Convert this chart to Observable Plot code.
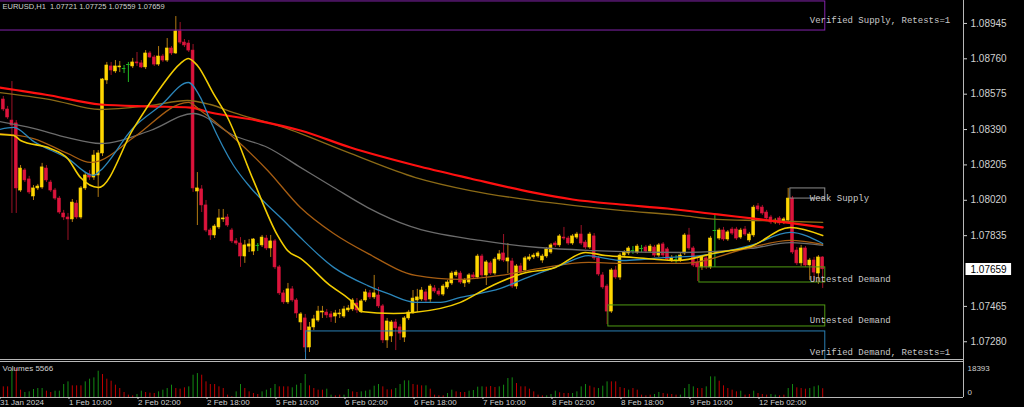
<!DOCTYPE html>
<html><head><meta charset="utf-8">
<script src="https://cdn.jsdelivr.net/npm/d3@7"></script>
<script src="https://cdn.jsdelivr.net/npm/@observablehq/plot@0.6"></script>
<style>
html,body{margin:0;padding:0;background:#000;width:1024px;height:407px;overflow:hidden}
#chart{position:relative;width:1024px;height:407px;background:#000}
#chart svg{display:block;overflow:hidden;position:absolute;left:0}
</style></head><body><div id="chart"></div>
<script>
// ---------------- data ----------------
const symbolName = "EURUSD,H1";
const firstBarIndex = 1; // bar index 0 = 31 Jan 18:00, one bar per hour (weekend skipped)
const barOpen = [
1.08547,1.08495,1.08437,1.08422,1.08071,1.08176,1.08129,1.08040,1.08082,1.08087,
1.08186,1.08113,1.08071,1.08029,1.07951,1.07930,1.07920,1.08003,1.07930,1.08082,
1.08155,1.08139,1.08150,1.08265,1.08647,1.08720,1.08694,1.08715,1.08709,1.08730,
1.08720,1.08741,1.08736,1.08715,1.08788,1.08767,1.08730,1.08772,1.08751,1.08814,
1.08788,1.08903,1.08845,1.08840,1.08803,1.08066,1.08077,1.07993,1.07862,1.07836,
1.07878,1.07920,1.07930,1.07862,1.07805,1.07794,1.07726,1.07778,1.07752,1.07784,
1.07784,1.07820,1.07768,1.07805,1.07669,1.07533,1.07486,1.07554,1.07496,1.07381,
1.07402,1.07250,1.07355,1.07391,1.07433,1.07433,1.07423,1.07412,1.07423,1.07412,
1.07444,1.07449,1.07480,1.07438,1.07496,1.07533,1.07512,1.07522,1.07465,1.07287,
1.07308,1.07381,1.07355,1.07302,1.07402,1.07433,1.07496,1.07501,1.07538,1.07501,
1.07559,1.07543,1.07527,1.07564,1.07585,1.07627,1.07637,1.07585,1.07590,1.07627,
1.07616,1.07726,1.07627,1.07690,1.07637,1.07710,1.07742,1.07700,1.07700,1.07569,
1.07674,1.07653,1.07710,1.07721,1.07726,1.07705,1.07726,1.07747,1.07794,1.07784,
1.07825,1.07820,1.07794,1.07825,1.07841,1.07799,1.07773,1.07831,1.07716,1.07627,
1.07569,1.07438,1.07653,1.07616,1.07731,1.07742,1.07757,1.07747,1.07768,1.07773,
1.07752,1.07773,1.07731,1.07789,1.07763,1.07705,1.07710,1.07705,1.07742,1.07836,
1.07768,1.07695,1.07669,1.07716,1.07669,1.07862,1.07820,1.07862,1.07815,1.07867,
1.07867,1.07825,1.07867,1.07810,1.07836,1.07988,1.07982,1.07956,1.07930,1.07904,
1.07925,1.07904,1.07914,1.08029,1.07757,1.07690,1.07768,1.07679,1.07705,1.07637,
1.07721];
const barHigh = [
1.08563,1.08511,1.08641,1.08437,1.08202,1.08186,1.08145,1.08097,1.08103,1.08213,
1.08202,1.08124,1.08082,1.08040,1.07967,1.07951,1.08024,1.08019,1.08092,1.08160,
1.08176,1.08280,1.08280,1.08657,1.08741,1.08741,1.08751,1.08746,1.08725,1.08741,
1.08762,1.08793,1.08751,1.08803,1.08798,1.08777,1.08824,1.08783,1.08866,1.08824,
1.08981,1.08950,1.08861,1.08856,1.08835,1.08165,1.08097,1.08019,1.07873,1.07893,
1.07972,1.07972,1.07946,1.07873,1.07820,1.07825,1.07810,1.07815,1.07820,1.07794,
1.07836,1.07836,1.07836,1.07815,1.07679,1.07548,1.07585,1.07569,1.07506,1.07433,
1.07423,1.07381,1.07418,1.07465,1.07465,1.07449,1.07438,1.07444,1.07449,1.07465,
1.07470,1.07506,1.07506,1.07501,1.07554,1.07548,1.07627,1.07564,1.07475,1.07402,
1.07391,1.07397,1.07370,1.07412,1.07444,1.07548,1.07554,1.07564,1.07554,1.07580,
1.07574,1.07559,1.07580,1.07601,1.07648,1.07653,1.07648,1.07611,1.07637,1.07642,
1.07737,1.07737,1.07705,1.07700,1.07721,1.07757,1.07841,1.07794,1.07716,1.07684,
1.07690,1.07726,1.07737,1.07742,1.07752,1.07737,1.07773,1.07794,1.07805,1.07841,
1.07878,1.07831,1.07841,1.07852,1.07888,1.07810,1.07852,1.07846,1.07726,1.07642,
1.07580,1.07663,1.07674,1.07742,1.07757,1.07778,1.07778,1.07789,1.07784,1.07784,
1.07789,1.07784,1.07794,1.07799,1.07773,1.07731,1.07731,1.07742,1.07846,1.07873,
1.07778,1.07716,1.07731,1.07726,1.07831,1.07951,1.07873,1.07878,1.07862,1.07878,
1.07878,1.07873,1.07883,1.07852,1.07993,1.08003,1.07993,1.07967,1.07941,1.07925,
1.07935,1.07930,1.08082,1.08040,1.07773,1.07784,1.07778,1.07716,1.07721,1.07731,
1.07725];
const barLow = [
1.08484,1.08443,1.07951,1.07951,1.08061,1.08113,1.08050,1.08019,1.08071,1.08077,
1.08113,1.08061,1.08019,1.07946,1.07914,1.07810,1.07904,1.07920,1.07920,1.08071,
1.08124,1.08124,1.08035,1.08249,1.08626,1.08673,1.08683,1.08688,1.08683,1.08636,
1.08709,1.08720,1.08709,1.08704,1.08762,1.08720,1.08720,1.08741,1.08741,1.08777,
1.08783,1.08835,1.08819,1.08793,1.08061,1.07888,1.07956,1.07852,1.07810,1.07820,
1.07867,1.07904,1.07878,1.07794,1.07784,1.07669,1.07690,1.07747,1.07731,1.07752,
1.07773,1.07757,1.07721,1.07658,1.07522,1.07475,1.07475,1.07486,1.07402,1.07339,
1.07224,1.07224,1.07339,1.07381,1.07402,1.07402,1.07381,1.07376,1.07402,1.07402,
1.07433,1.07438,1.07428,1.07428,1.07486,1.07501,1.07501,1.07454,1.07271,1.07245,
1.07276,1.07234,1.07287,1.07276,1.07391,1.07423,1.07433,1.07491,1.07486,1.07486,
1.07533,1.07517,1.07517,1.07554,1.07574,1.07616,1.07580,1.07564,1.07580,1.07606,
1.07606,1.07616,1.07574,1.07627,1.07627,1.07700,1.07695,1.07637,1.07559,1.07554,
1.07632,1.07642,1.07700,1.07710,1.07716,1.07690,1.07716,1.07737,1.07773,1.07773,
1.07810,1.07784,1.07784,1.07815,1.07784,1.07763,1.07763,1.07705,1.07622,1.07554,
1.07370,1.07428,1.07606,1.07601,1.07721,1.07731,1.07737,1.07737,1.07747,1.07742,
1.07742,1.07721,1.07721,1.07721,1.07700,1.07695,1.07690,1.07695,1.07731,1.07757,
1.07669,1.07595,1.07653,1.07658,1.07658,1.07669,1.07810,1.07805,1.07805,1.07836,
1.07810,1.07815,1.07831,1.07799,1.07825,1.07961,1.07941,1.07914,1.07893,1.07893,
1.07888,1.07893,1.07904,1.07737,1.07679,1.07674,1.07669,1.07601,1.07590,1.07580,
1.07559];
const barClose = [
1.08495,1.08453,1.08411,1.08082,1.08186,1.08124,1.08061,1.08082,1.08092,1.08192,
1.08124,1.08071,1.08029,1.07956,1.07930,1.07920,1.08008,1.07930,1.08082,1.08150,
1.08139,1.08254,1.08265,1.08652,1.08725,1.08699,1.08720,1.08720,1.08709,1.08730,
1.08741,1.08736,1.08715,1.08788,1.08767,1.08730,1.08772,1.08751,1.08814,1.08788,
1.08903,1.08845,1.08830,1.08803,1.08082,1.08082,1.07993,1.07862,1.07836,1.07883,
1.07925,1.07925,1.07888,1.07805,1.07794,1.07726,1.07784,1.07789,1.07815,1.07784,
1.07825,1.07768,1.07805,1.07669,1.07533,1.07486,1.07554,1.07496,1.07428,1.07423,
1.07250,1.07355,1.07397,1.07438,1.07438,1.07418,1.07407,1.07428,1.07428,1.07449,
1.07454,1.07496,1.07444,1.07491,1.07538,1.07512,1.07533,1.07465,1.07287,1.07386,
1.07381,1.07350,1.07323,1.07402,1.07433,1.07506,1.07512,1.07548,1.07496,1.07569,
1.07543,1.07527,1.07569,1.07590,1.07637,1.07642,1.07590,1.07601,1.07627,1.07616,
1.07726,1.07627,1.07695,1.07637,1.07710,1.07737,1.07705,1.07716,1.07569,1.07674,
1.07642,1.07716,1.07721,1.07731,1.07742,1.07726,1.07763,1.07784,1.07784,1.07831,
1.07820,1.07794,1.07831,1.07841,1.07794,1.07773,1.07841,1.07716,1.07632,1.07564,
1.07438,1.07653,1.07616,1.07731,1.07747,1.07768,1.07757,1.07778,1.07768,1.07752,
1.07778,1.07731,1.07784,1.07731,1.07710,1.07716,1.07710,1.07731,1.07836,1.07768,
1.07679,1.07669,1.07721,1.07669,1.07820,1.07862,1.07862,1.07815,1.07852,1.07846,
1.07820,1.07862,1.07841,1.07841,1.07982,1.07972,1.07951,1.07925,1.07904,1.07914,
1.07899,1.07920,1.08029,1.07747,1.07690,1.07768,1.07679,1.07705,1.07642,1.07721,
1.07659];
const tickVolume = [
6752,6752,17302,18393,4642,3165,3587,5064,5697,5697,
4009,3165,4009,4009,8229,9917,7385,7385,7385,9917,
11605,12449,16669,14559,11605,10339,7807,5697,3165,1477,
1055,1899,4009,3165,2743,2532,3587,4642,5697,7807,
5697,5275,6119,6752,14137,15192,14137,9917,8229,8229,
6752,5697,1477,422,3587,8229,5697,3587,2532,1899,
3587,4642,5697,8229,6752,6752,6752,6119,7807,8862,
14559,7385,5697,4642,4642,5275,1477,1055,1477,1477,
5064,3587,3165,3587,4009,4642,7174,8229,6752,4853,
4853,5697,8229,10550,10550,8229,7807,7385,7385,5275,
1477,1055,1055,2532,4642,3587,3165,3165,4009,4431,
6541,6752,6541,6963,6330,6752,7807,12027,12449,8862,
6752,6752,5275,3587,1477,1055,1055,1899,4009,2954,
2532,2532,2532,3587,6752,8229,7174,6119,5697,7174,
9917,9917,9917,6330,5697,4642,5697,4642,1477,1055,
1477,1899,3165,2532,2110,1899,1477,1477,5697,8229,
6752,5697,5697,6752,13082,13082,10339,7385,5697,4642,
3587,4009,1477,1899,4009,2532,1899,1477,1899,1477,
1055,1477,5697,8229,6119,5697,5275,5697,6752,7385,
5566];
// g = volume bar drawn green, r = drawn red
const volumeColorFlags = ("rrgrrggggg"+"rrggggrrrg"+"gggrrrrrrr"+"rggrrrgggg"+"rrrgggrrrr"+
  "rrrrggrrrr"+"ggggrrrggg"+"grrrrggrrg"+"grrgggggrr"+"rggggrrrgr"+"rrrggrrrgg"+"ggrrrggggr"+
  "rrrrrrgggr"+"rrggggrrgg"+"grrrrgrrrr"+"rggrrrrggg"+"grrgggrrrr"+"rgrrgrrrgg"+"rrggrrrggg"+"r").split("");
const volumeScaleMax = 18393;

const timeTickBars = [0,16,32,48,64,80,96,112,128,144,160,176];
const timeTickLabels = ["31 Jan 2024","1 Feb 10:00","2 Feb 02:00","2 Feb 18:00","5 Feb 10:00","6 Feb 02:00",
  "6 Feb 18:00","7 Feb 10:00","8 Feb 02:00","8 Feb 18:00","9 Feb 10:00","12 Feb 02:00"];
const priceTicks = [1.08945,1.08760,1.08575,1.08390,1.08205,1.08020,1.07835,1.07465,1.07280];

// moving averages: bar index and value read at points along each line
const maRedBar = [0,11.9,23.5,35.1,44.4,49.0,59.9,69.9,81.5,96.6,109.3,123.7,133.0,144.1,155.0,166.6,176.6,184.2,191];
const maRedVal = [1.08610,1.08568,1.08521,1.08511,1.08505,1.08479,1.08437,1.08385,1.08296,1.08202,1.08134,1.08061,1.08024,1.07998,1.07977,1.07946,1.07920,1.07899,1.07878];
const maOliveBar = [0,11.9,23.5,35.1,43.7,49.0,54.4,66.0,81.5,96.6,109.3,123.7,133.0,144.1,158.0,166.6,176.6,184.2,191];
const maOliveVal = [1.08584,1.08547,1.08495,1.08516,1.08542,1.08521,1.08479,1.08401,1.08265,1.08139,1.08071,1.08019,1.07993,1.07967,1.07941,1.07920,1.07914,1.07909,1.07904];
const maGrayBar = [0,8.0,15.9,23.5,35.1,45.1,54.4,62.3,69.9,77.6,85.5,95.4,111.6,125.1,137.9,158.7,174.3,183.5,191];
const maGrayVal = [1.08432,1.08396,1.08348,1.08317,1.08385,1.08474,1.08359,1.08296,1.08192,1.08087,1.07982,1.07883,1.07810,1.07773,1.07757,1.07747,1.07768,1.07799,1.07784];
const maBrownBar = [0,8.0,15.9,21.2,23.5,31.2,43.9,46.7,54.4,62.3,69.9,77.6,85.5,96.6,107.0,116.3,125.1,136.7,144.1,158.7,174.3,183.5,191];
const maBrownVal = [1.08369,1.08343,1.08265,1.08218,1.08228,1.08348,1.08532,1.08490,1.08348,1.08176,1.07982,1.07846,1.07742,1.07627,1.07606,1.07627,1.07663,1.07695,1.07690,1.07690,1.07773,1.07810,1.07789];
const maBlueBar = [0,3.4,8.0,15.9,21.9,23.5,31.2,37.5,43.9,46.7,49.0,54.4,58.3,66.0,69.9,77.6,85.5,90.1,96.6,102.4,107.0,116.3,122.5,130.2,136.7,140.6,144.1,155.0,162.7,174.3,183.5,191];
const maBlueVal = [1.08390,1.08401,1.08328,1.08239,1.08150,1.08176,1.08401,1.08516,1.08636,1.08558,1.08437,1.08202,1.08087,1.07914,1.07825,1.07669,1.07574,1.07533,1.07486,1.07486,1.07512,1.07559,1.07616,1.07679,1.07731,1.07716,1.07705,1.07721,1.07731,1.07784,1.07852,1.07794];
const maYellowBar = [0,3.4,5.0,11.9,15.9,18.9,23.1,31.2,37.5,42.1,43.9,46.0,49.7,53.0,59.0,64.6,66.9,69.9,76.2,83.1,83.8,91.5,96.1,107.0,113.5,121.4,129.0,136.0,140.6,147.1,157.3,166.6,174.3,183.5,191];
const maYellowVal = [1.08364,1.08359,1.08333,1.08291,1.08239,1.08139,1.08087,1.08396,1.08610,1.08736,1.08762,1.08725,1.08579,1.08453,1.08124,1.07836,1.07757,1.07716,1.07585,1.07459,1.07438,1.07428,1.07433,1.07486,1.07564,1.07637,1.07669,1.07747,1.07731,1.07721,1.07705,1.07747,1.07778,1.07878,1.07836];

// supply / demand zones
const zoneName = ["Verified Supply, Retests=1","Weak Supply","Untested Demand","Untested Demand","Verified Demand, Retests=1"];
const zoneFromBar = [-10,183.5,162.4,141.3,71.2];
const zoneToBar = [191.6,191.6,191.6,191.6,191.6];
const zoneHigh = [1.09060,1.08082,1.07669,1.07470,1.07334];
const zoneLow = [1.08908,1.08029,1.07590,1.07360,1.07150];
const zoneLabelPrice = [1.08960,1.08029,1.07606,1.07391,1.07224];
const zoneLabelBar = [188,188,188,188,188];
const zoneKind = ["verifiedSupply","weakSupply","untestedDemand","untestedDemand","verifiedDemand"];

// ---------------- chart ----------------
const X_DOMAIN = [0.348, 223.65];
const Y_DOMAIN = [1.07182, 1.09065];
const COL = {
  bull:"#ffd700", bear:"#dc143c", doji:"#22b822", bullWick:"#b27a12", bearWick:"#9c1226",
  volUp:"#138a13", volDown:"#c00000", border:"#b8b8b8", text:"#d0d0d0", zoneText:"#c8c8c8",
  verifiedSupply:"#8424ac", weakSupply:"#8c8c8c", untestedDemand:"#4f9a12", verifiedDemand:"#2a7fb4"
};
const FONT = "Liberation Sans, Arial, sans-serif";

const bars = barOpen.map((o,k)=>({i:firstBarIndex+k, o, h:barHigh[k], l:barLow[k], c:barClose[k]}));
const kind = d => d.c > d.o ? "bull" : d.c < d.o ? "bear" : "doji";
const bodies = bars.filter(d=>kind(d)!=="doji");
const dojis = bars.filter(d=>kind(d)==="doji");
const wickColor = d => kind(d)==="bull" ? COL.bullWick : kind(d)==="bear" ? COL.bearWick : COL.doji;
const bodyColor = d => kind(d)==="bull" ? COL.bull : COL.bear;

const maSpecs = [
  {bar:maOliveBar, val:maOliveVal, color:"#8b6a16", w:1.3},
  {bar:maGrayBar, val:maGrayVal, color:"#6c6c6c", w:1.3},
  {bar:maRedBar, val:maRedVal, color:"#ff1010", w:2.2},
  {bar:maBrownBar, val:maBrownVal, color:"#a65d12", w:1.3},
  {bar:maBlueBar, val:maBlueVal, color:"#2b86ba", w:1.3},
  {bar:maYellowBar, val:maYellowVal, color:"#f2cc00", w:1.6}
];
const maMarks = maSpecs.map(s => Plot.line(s.bar.map((b,k)=>({i:b, p:s.val[k]})),
  {x:"i", y:"p", stroke:s.color, strokeWidth:s.w, curve:"monotone-x"}));

const zones = zoneName.map((n,k)=>({name:n, from:zoneFromBar[k], to:zoneToBar[k], hi:zoneHigh[k], lo:zoneLow[k],
  lp:zoneLabelPrice[k], lb:zoneLabelBar[k], color:COL[zoneKind[k]]}));

const last = bars[bars.length-1];
const f5 = v => v.toFixed(5);
const titleText = `${symbolName}\u00a0\u00a0${f5(last.o)} ${f5(last.h)} ${f5(last.l)} ${f5(last.c)}`;

const mainSvg = Plot.plot({
  width:1024, height:360, marginLeft:0, marginRight:61, marginTop:0, marginBottom:0,
  x:{domain:X_DOMAIN, axis:null}, y:{domain:Y_DOMAIN, axis:null}, color:{type:"identity"},
  style:{background:"#000", color:COL.text, fontFamily:FONT, fontSize:"10px"},
  marks:[
    Plot.ruleX(bars, {x:"i", y1:"l", y2:"h", stroke:wickColor, strokeWidth:1}),
    Plot.rect(bodies, {x1:d=>d.i-0.33, x2:d=>d.i+0.33, y1:d=>Math.min(d.o,d.c), y2:d=>Math.max(d.o,d.c),
      fill:bodyColor, stroke:bodyColor, strokeWidth:0.6}),
    Plot.ruleY(dojis, {y:"o", x1:d=>d.i-0.42, x2:d=>d.i+0.42, stroke:COL.doji, strokeWidth:1}),
    ...maMarks,
    Plot.rect(zones, {x1:"from", x2:"to", y1:"lo", y2:"hi", fill:"none", stroke:"color", strokeWidth:1}),
    Plot.text(zones, {x:"lb", y:"lp", text:"name", textAnchor:"start", fill:COL.zoneText,
      fontFamily:"Liberation Mono, Courier New, monospace", fontSize:9}),
    Plot.ruleX([X_DOMAIN[1]], {stroke:COL.border}),
    Plot.ruleY([Y_DOMAIN[0]], {stroke:COL.border, dy:-1}),
    Plot.axisY({ticks:priceTicks, anchor:"right", tickSize:3, tickPadding:4, tickFormat:f5, fontSize:10, label:null}),
    Plot.text([last.c], {y:d=>d, text:f5, frameAnchor:"right", textAnchor:"start", dx:7, fill:"#000", fontSize:10}),
    Plot.text([titleText], {text:d=>d, frameAnchor:"top-left", dx:2, dy:6, lineAnchor:"middle", fill:COL.text, fontSize:7.5})
  ]
});

const vols = tickVolume.map((v,k)=>({i:firstBarIndex+k, v, up:volumeColorFlags[k]==="g"}));
const VOL_TOP = volumeScaleMax*37/29;
const volSvg = Plot.plot({
  width:1024, height:47, marginLeft:0, marginRight:61, marginTop:0, marginBottom:10,
  x:{domain:X_DOMAIN, axis:null}, y:{domain:[0, VOL_TOP], axis:null}, color:{type:"identity"},
  style:{background:"#000", color:COL.text, fontFamily:FONT, fontSize:"8px"},
  marks:[
    Plot.ruleX(vols, {x:"i", y1:0, y2:"v", stroke:d=>d.up?COL.volUp:COL.volDown, strokeWidth:1}),
    Plot.ruleX([X_DOMAIN[1]], {stroke:COL.border}),
    Plot.ruleY([0], {stroke:COL.border}),
    Plot.ruleY([VOL_TOP], {stroke:COL.border, dy:1}),
    Plot.axisX({ticks:timeTickBars, tickFormat:d=>timeTickLabels[timeTickBars.indexOf(d)], anchor:"bottom",
      tickSize:2, tickPadding:0, textAnchor:"start", dx:1, fontSize:8, label:null}),
    Plot.axisY({ticks:[volumeScaleMax], tickFormat:d=>String(d), anchor:"right", tickSize:0, tickPadding:4, fontSize:8, label:null}),
    Plot.axisY({ticks:[0], tickFormat:d=>String(d), anchor:"right", tickSize:0, tickPadding:4, dy:-5, fontSize:8, label:null}),
    Plot.text([`Volumes ${tickVolume[tickVolume.length-1]}`], {text:d=>d, frameAnchor:"top-left", dx:2, dy:8,
      lineAnchor:"middle", fill:COL.text, fontSize:8})
  ]
});

const chart = document.getElementById("chart");
mainSvg.style.top = "0px";
volSvg.style.top = "360px";
chart.appendChild(mainSvg);
chart.appendChild(volSvg);

// white box behind the current price label
const bidLabel = f5(last.c);
d3.select(mainSvg).selectAll("text")
  .filter(function(){ return this.textContent === bidLabel; })
  .each(function(){
    const bb = this.getBBox();
    const r = document.createElementNS("http://www.w3.org/2000/svg", "rect");
    const tr = this.getAttribute("transform");
    if (tr) r.setAttribute("transform", tr);
    r.setAttribute("x", bb.x - 5); r.setAttribute("y", bb.y - 0.5);
    r.setAttribute("width", bb.width + 9); r.setAttribute("height", bb.height + 1);
    r.setAttribute("fill", "#ffffff");
    this.parentNode.insertBefore(r, this);
  });
</script></body></html>
